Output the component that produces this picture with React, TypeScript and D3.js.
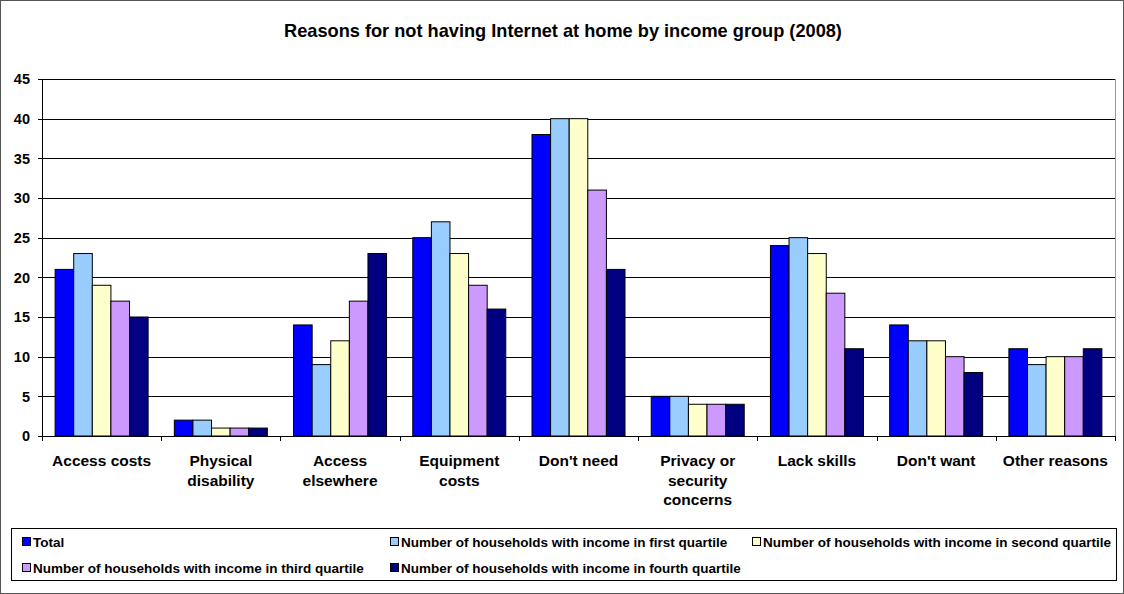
import React from "react";
import * as d3 from "d3";

const categories = [
  "Access costs",
  "Physical disability",
  "Access elsewhere",
  "Equipment costs",
  "Don't need",
  "Privacy or security concerns",
  "Lack skills",
  "Don't want",
  "Other reasons",
];
const categoryLines = [
  ["Access costs"],
  ["Physical", "disability"],
  ["Access", "elsewhere"],
  ["Equipment", "costs"],
  ["Don't need"],
  ["Privacy or", "security", "concerns"],
  ["Lack skills"],
  ["Don't want"],
  ["Other reasons"],
];
const seriesNames = [
  "Total",
  "Number of households with income in first quartile",
  "Number of households with income in second quartile",
  "Number of households with income in third quartile",
  "Number of households with income in fourth quartile",
];
const total = [21, 2, 14, 25, 38, 5, 24, 14, 11];
const q1 = [23, 2, 9, 27, 40, 5, 25, 12, 9];
const q2 = [19, 1, 12, 23, 40, 4, 23, 12, 10];
const q3 = [17, 1, 17, 19, 31, 4, 18, 10, 10];
const q4 = [15, 1, 23, 16, 21, 4, 11, 8, 11];
const seriesValues = [total, q1, q2, q3, q4];
const colors = ["#0000FF", "#99CCFF", "#FFFFCC", "#CC99FF", "#000080"];
const yTicks = [0, 5, 10, 15, 20, 25, 30, 35, 40, 45];

const W = 1124;
const H = 594;
const left = 42;
const right = 1115;
const top = 79;
const bottom = 436;
const font = "Arial, 'Liberation Sans', sans-serif";

export default function App() {
  const x = d3.scaleBand<string>().domain(categories).range([left, right]).paddingInner(0).paddingOuter(0);
  const y = d3.scaleLinear().domain([0, 45]).range([bottom, top]);
  const bw = x.bandwidth();
  const groupW = bw * 0.78;
  const xs = d3.scaleBand<number>().domain(d3.range(5)).range([0, groupW]);
  const off = (bw - groupW) / 2;

  const legendItems = [
    { i: 0, x: 22, y: 542 },
    { i: 1, x: 390, y: 542 },
    { i: 2, x: 752, y: 542 },
    { i: 3, x: 22, y: 568 },
    { i: 4, x: 390, y: 568 },
  ];

  return (
    <svg width={W} height={H} style={{ position: "absolute", left: 0, top: 0 }} fontFamily={font}>
      <rect x={0.5} y={0.5} width={W - 1} height={H - 1} fill="#fff" stroke="#555" />
      <text x={W / 2 + 1} y={36.5} textAnchor="middle" fontWeight="bold" fontSize={18.2}>
        Reasons for not having Internet at home by income group (2008)
      </text>
      {yTicks.map((t) => (
        <line key={t} x1={left} x2={right} y1={Math.round(y(t)) + 0.5} y2={Math.round(y(t)) + 0.5} stroke="#000" strokeWidth={1} />
      ))}
      <line x1={right + 0.5} x2={right + 0.5} y1={top} y2={bottom} stroke="#999" />
      {categories.map((c, ci) => (
        <g key={c}>
          {seriesValues.map((vals, si) => (
            <rect
              key={si}
              x={(x(c) as number) + off + (xs(si) as number)}
              y={y(vals[ci])}
              width={xs.bandwidth()}
              height={bottom - y(vals[ci])}
              fill={colors[si]}
              stroke="#000"
              strokeWidth={1}
            />
          ))}
        </g>
      ))}
      <line x1={left + 0.5} x2={left + 0.5} y1={top} y2={bottom} stroke="#000" />
      {yTicks.map((t) => (
        <g key={t}>
          <line x1={left - 4} x2={left} y1={Math.round(y(t)) + 0.5} y2={Math.round(y(t)) + 0.5} stroke="#000" />
          <text x={left - 12} y={y(t)} dy="0.36em" textAnchor="end" fontWeight="bold" fontSize={14.5}>
            {t}
          </text>
        </g>
      ))}
      <line x1={left} x2={right} y1={bottom + 0.5} y2={bottom + 0.5} stroke="#000" />
      {categories.map((c, ci) => (
        <line key={"t" + ci} x1={Math.round(x(c) as number) + 0.5} x2={Math.round(x(c) as number) + 0.5} y1={bottom} y2={bottom + 5} stroke="#000" />
      ))}
      <line x1={right + 0.5} x2={right + 0.5} y1={bottom} y2={bottom + 5} stroke="#000" />
      {categories.map((c, ci) => (
        <text key={"l" + ci} x={(x(c) as number) + bw / 2} textAnchor="middle" fontWeight="bold" fontSize={15.5}>
          {categoryLines[ci].map((ln, li) => (
            <tspan key={li} x={(x(c) as number) + bw / 2} y={466 + li * 19.5}>
              {ln}
            </tspan>
          ))}
        </text>
      ))}
      <rect x={11.5} y={528.5} width={1105} height={52} fill="#fff" stroke="#000" />
      {legendItems.map((it) => (
        <g key={it.i}>
          <rect x={it.x + 0.5} y={it.y - 4.5} width={8} height={8} fill={colors[it.i]} stroke="#000" />
          <text x={it.x + 11} y={it.y} dy="0.36em" fontWeight="bold" fontSize={13.5}>
            {seriesNames[it.i]}
          </text>
        </g>
      ))}
    </svg>
  );
}
